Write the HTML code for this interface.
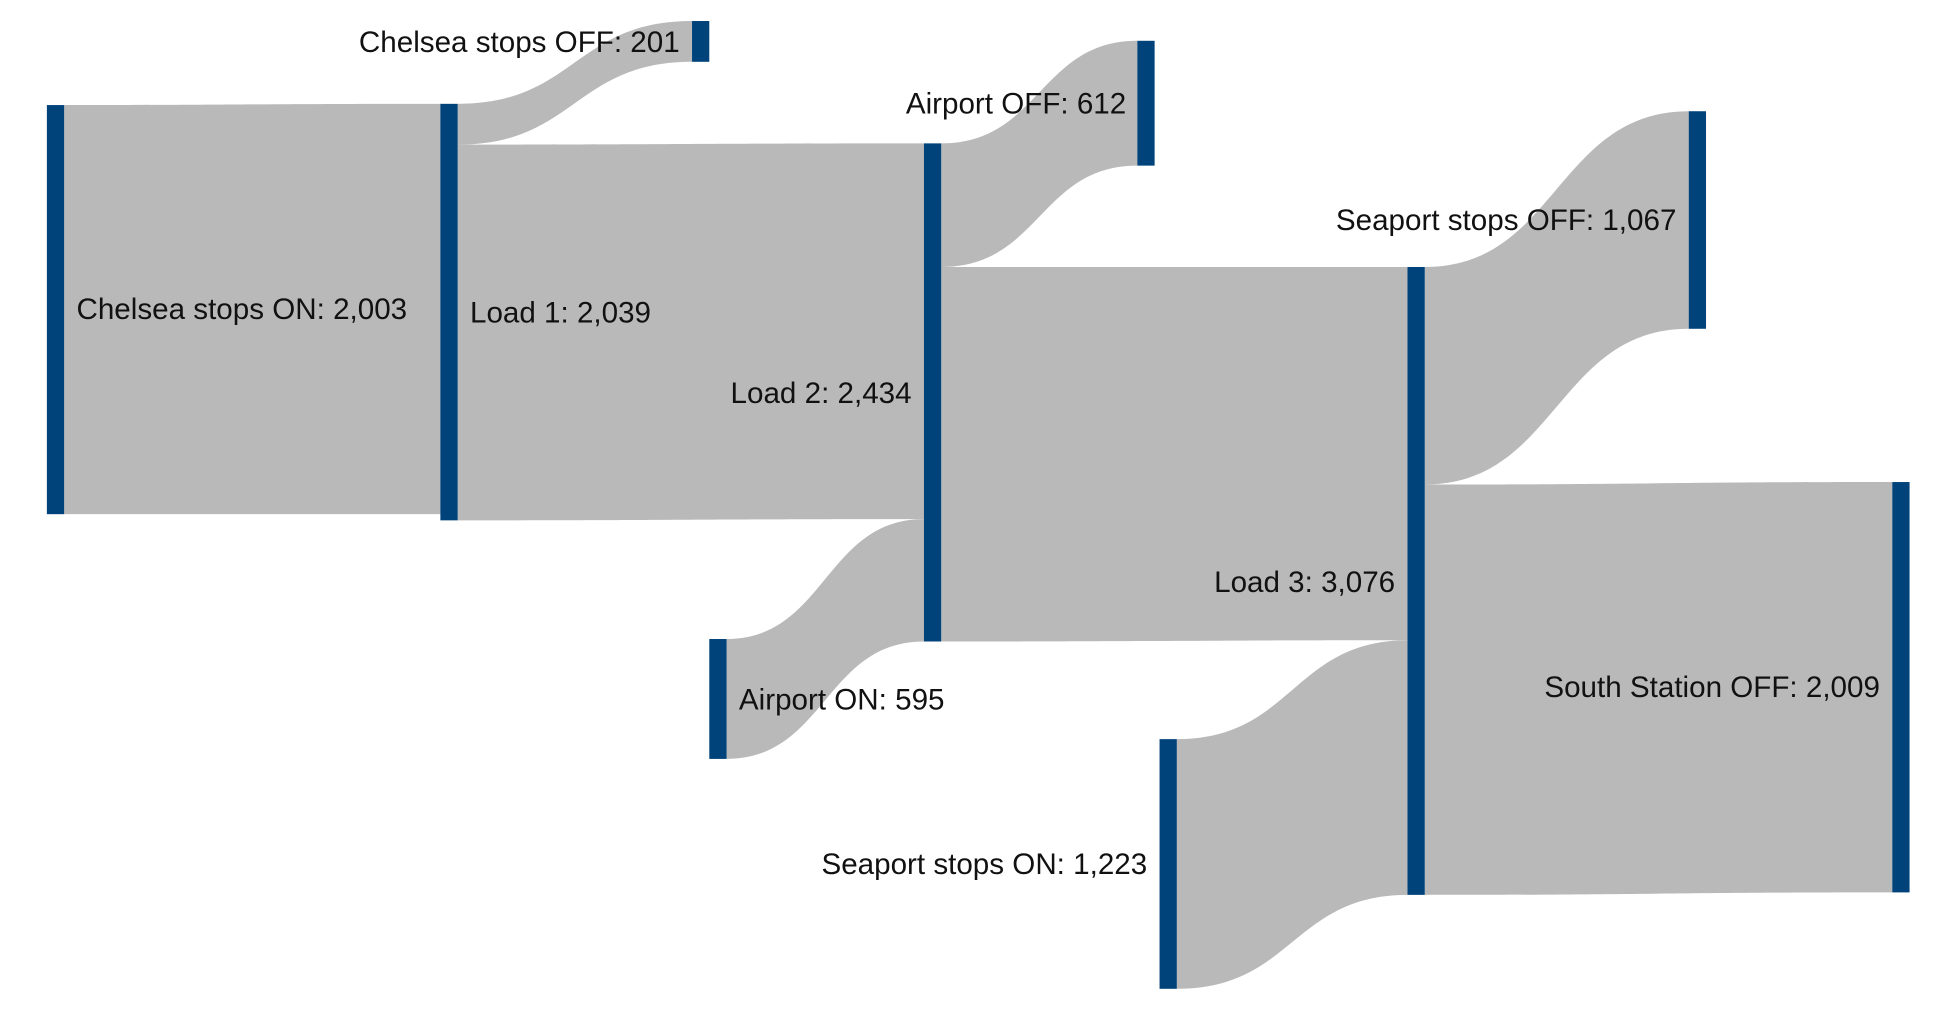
<!DOCTYPE html>
<html><head><meta charset="utf-8"><style>
html,body{margin:0;padding:0;background:#fff;width:1933px;height:1016px;overflow:hidden}
svg{display:block}
text{font-family:"Liberation Sans",Arial,sans-serif;font-size:24px;fill:#111}
</style></head><body>
<svg width="1933" height="1016" viewBox="0 0 1567 822" preserveAspectRatio="none">
<g fill="#b9b9b9">
<path d="M52,85 C204,85 205,84 357,84 L357,416 C205,416 204,416 52,416 Z"/>
<path d="M371,84 C466,84 466,17 561,17 L561,50 C466,50 466,117 371,117 Z"/>
<path d="M371,117 C560,117 560,116 749,116 L749,420 C560,420 560,421 371,421 Z"/>
<path d="M589,517 C669,517 669,420 749,420 L749,519 C669,519 669,614 589,614 Z"/>
<path d="M763,116 C843,116 843,33 922,33 L922,134 C843,134 843,216 763,216 Z"/>
<path d="M763,216 C952,216 952,216 1141,216 L1141,518 C952,518 952,519 763,519 Z"/>
<path d="M954,598 C1048,598 1048,518 1141,518 L1141,724 C1048,724 1048,800 954,800 Z"/>
<path d="M1155,216 C1262,216 1262,90 1369,90 L1369,266 C1262,266 1262,392 1155,392 Z"/>
<path d="M1155,392 C1345,392 1345,390 1534,390 L1534,722 C1345,722 1345,724 1155,724 Z"/>
</g>
<g fill="#00427a">
<rect x="38" y="85" width="14" height="331"/>
<rect x="357" y="84" width="14" height="337"/>
<rect x="561" y="17" width="14" height="33"/>
<rect x="749" y="116" width="14" height="403"/>
<rect x="575" y="517" width="14" height="97"/>
<rect x="922" y="33" width="14" height="101"/>
<rect x="1141" y="216" width="14" height="508"/>
<rect x="940" y="598" width="14" height="202"/>
<rect x="1369" y="90" width="14" height="176"/>
<rect x="1534" y="390" width="14" height="332"/>
</g>
<text x="551" y="42" text-anchor="end">Chelsea stops OFF: 201</text>
<text x="913" y="92" text-anchor="end">Airport OFF: 612</text>
<text x="1359" y="186" text-anchor="end">Seaport stops OFF: 1,067</text>
<text x="1524" y="564" text-anchor="end">South Station OFF: 2,009</text>
<text x="930" y="707" text-anchor="end">Seaport stops ON: 1,223</text>
<text x="62" y="258">Chelsea stops ON: 2,003</text>
<text x="381" y="261">Load 1: 2,039</text>
<text x="739" y="326" text-anchor="end">Load 2: 2,434</text>
<text x="599" y="574">Airport ON: 595</text>
<text x="1131" y="479" text-anchor="end">Load 3: 3,076</text>
</svg>
</body></html>
